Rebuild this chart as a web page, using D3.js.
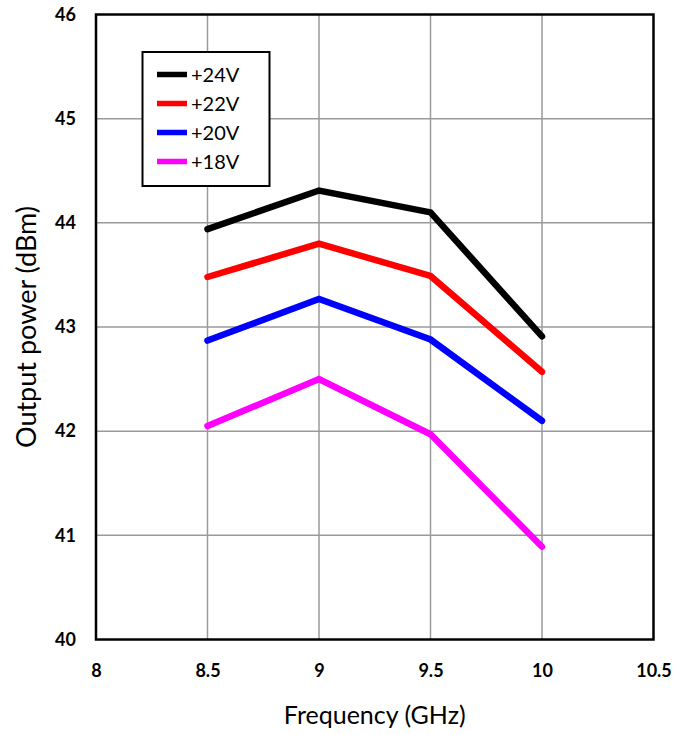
<!DOCTYPE html>
<html>
<head>
<meta charset="utf-8">
<script src="https://cdn.jsdelivr.net/npm/d3@7"></script>
<style>
  html, body { margin: 0; padding: 0; background: #fff; }
  svg { display: block; }
</style>
</head>
<body>
<svg id="chart" width="674" height="735"></svg>
<script>
// Output power vs. frequency for several supply voltages
const frequencies = [8.5, 9, 9.5, 10];
const seriesNames = ["+24V", "+22V", "+20V", "+18V"];
const seriesColors = ["#000000", "#ff0000", "#0000ff", "#ff00ff"];
const power24 = [43.94, 44.31, 44.10, 42.91];
const power22 = [43.48, 43.80, 43.49, 42.57];
const power20 = [42.87, 43.27, 42.88, 42.10];
const power18 = [42.05, 42.50, 41.97, 40.89];
const xTicks = [8, 8.5, 9, 9.5, 10, 10.5];
const yTicks = [40, 41, 42, 43, 44, 45, 46];

const series = [power24, power22, power20, power18].map((vals, i) => ({
  name: seriesNames[i],
  color: seriesColors[i],
  points: frequencies.map((f, j) => ({ f, p: vals[j] }))
}));

const svg = d3.select("#chart");
const plot = { left: 96, top: 14.5, right: 653.5, bottom: 639.5 };

const x = d3.scaleLinear().domain([8, 10.5]).range([plot.left, plot.right]);
const y = d3.scaleLinear().domain([40, 46]).range([plot.bottom, plot.top]);

// gridlines
const grid = svg.append("g");
grid.selectAll("line.v").data(xTicks.slice(1, -1)).join("line")
  .attr("x1", d => x(d)).attr("x2", d => x(d))
  .attr("y1", plot.top).attr("y2", plot.bottom)
  .attr("stroke", "#9a9a9a").attr("stroke-width", 1.5);
grid.selectAll("line.h").data(yTicks.slice(1, -1)).join("line")
  .attr("x1", plot.left).attr("x2", plot.right)
  .attr("y1", d => y(d)).attr("y2", d => y(d))
  .attr("stroke", "#9a9a9a").attr("stroke-width", 1.5);

// plot frame
svg.append("rect")
  .attr("x", plot.left).attr("y", plot.top)
  .attr("width", plot.right - plot.left).attr("height", plot.bottom - plot.top)
  .attr("fill", "none").attr("stroke", "#000").attr("stroke-width", 2.5);

// axes (labels only)
const fmt = d => String(d);
const xAxis = svg.append("g")
  .attr("transform", `translate(0,${plot.bottom})`)
  .call(d3.axisBottom(x).tickValues(xTicks).tickFormat(fmt).tickSize(0).tickPadding(25));
const yAxis = svg.append("g")
  .attr("transform", `translate(${plot.left},0)`)
  .call(d3.axisLeft(y).tickValues(yTicks).tickFormat(fmt).tickSize(0).tickPadding(20));
[xAxis, yAxis].forEach(a => {
  a.select(".domain").remove();
  a.selectAll("text")
    .attr("font-family", "Lato, 'Open Sans', sans-serif")
    .attr("font-weight", "bold")
    .attr("font-size", 18)
    .attr("fill", "#000");
});

// series lines
const line = d3.line().x(d => x(d.f)).y(d => y(d.p));
svg.append("g").selectAll("path").data(series).join("path")
  .attr("d", d => line(d.points))
  .attr("fill", "none")
  .attr("stroke", d => d.color)
  .attr("stroke-width", 6.5)
  .attr("stroke-linecap", "round")
  .attr("stroke-linejoin", "miter");

// legend
const legend = svg.append("g");
legend.append("rect")
  .attr("x", 142.5).attr("y", 52).attr("width", 127).attr("height", 134)
  .attr("fill", "#fff").attr("stroke", "#000").attr("stroke-width", 2);
const rows = legend.selectAll("g.row").data(series).join("g")
  .attr("transform", (d, i) => `translate(0,${74.5 + i * 29})`);
rows.append("line")
  .attr("x1", 157).attr("x2", 187).attr("y1", 0).attr("y2", 0)
  .attr("stroke", d => d.color).attr("stroke-width", 5.5);
rows.append("text")
  .attr("x", 191).attr("y", 0).attr("dy", "0.36em")
  .attr("font-family", "Lato, 'Open Sans', sans-serif")
  .attr("font-size", 20)
  .text(d => d.name);

// axis titles
svg.append("text")
  .attr("x", (plot.left + plot.right) / 2).attr("y", 724)
  .attr("text-anchor", "middle")
  .attr("font-family", "Lato, 'Open Sans', sans-serif")
  .attr("font-size", 25)
  .text("Frequency (GHz)");
svg.append("text")
  .attr("transform", `translate(36,${(plot.top + plot.bottom) / 2}) rotate(-90)`)
  .attr("text-anchor", "middle")
  .attr("font-family", "Lato, 'Open Sans', sans-serif")
  .attr("font-size", 27)
  .text("Output power (dBm)");
</script>
</body>
</html>
